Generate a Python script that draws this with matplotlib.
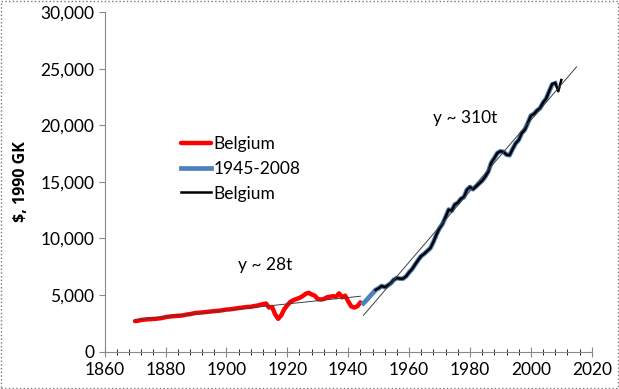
import numpy as np
import matplotlib
matplotlib.use("Agg")
import matplotlib.pyplot as plt
from matplotlib.ticker import FuncFormatter, MultipleLocator
from matplotlib.patches import Rectangle

plt.rcParams['font.family'] = ['Lato', 'DejaVu Sans']

# GDP per capita, Belgium, 1990 GK $
years_pre = list(range(1870, 1945))
gdp_pre = [2700, 2730, 2800, 2830, 2860, 2870, 2890, 2910, 2940, 2980,
           3050, 3090, 3120, 3140, 3170, 3180, 3220, 3280, 3310, 3370,
           3420, 3440, 3460, 3490, 3520, 3550, 3580, 3600, 3630, 3670,
           3720, 3730, 3770, 3810, 3850, 3880, 3920, 3950, 3960, 4020,
           4060, 4130, 4200, 4250, 3900, 3950, 3300, 2900, 3200, 3750,
           4100, 4400, 4550, 4650, 4750, 4900, 5100, 5200, 5050, 4950,
           4650, 4600, 4650, 4800, 4850, 4900, 4850, 5150, 4800, 4950,
           4450, 4000, 3900, 4000, 4350]

years_post = list(range(1945, 2009))
gdp_post = [4270, 4550, 4850, 5150, 5450, 5600, 5800, 5700, 5850, 6050,
            6350, 6500, 6450, 6450, 6650, 7000, 7300, 7700, 8100, 8450,
            8650, 8900, 9150, 9700, 10350, 10900, 11300, 11900, 12550, 12450,
            13000, 13150, 13500, 13650, 14300, 14550, 14350, 14600, 14850, 15100,
            15450, 15900, 16700, 17100, 17550, 17700, 17650, 17400, 17350, 17900,
            18400, 18700, 19300, 19600, 20200, 20850, 21000, 21300, 21500, 22000,
            22350, 23000, 23600, 23700]

years_black = list(range(1949, 2011))
gdp_black = [5450, 5600, 5800, 5700, 5850, 6050,
             6350, 6500, 6450, 6450, 6650, 7000, 7300, 7700, 8100, 8450,
             8650, 8900, 9150, 9700, 10350, 10900, 11300, 11900, 12550, 12450,
             13000, 13150, 13500, 13650, 14300, 14550, 14350, 14600, 14850, 15100,
             15450, 15900, 16700, 17100, 17550, 17700, 17650, 17400, 17350, 17900,
             18400, 18700, 19300, 19600, 20200, 20850, 21000, 21300, 21500, 22000,
             22350, 23000, 23650, 23750, 23000, 24000]

fig = plt.figure(figsize=(6.19, 3.89), dpi=100)
ax = fig.add_axes([0.169, 0.096, 0.787, 0.873])

ax.plot(years_pre, gdp_pre, color='#ff0000', lw=3.2, label='Belgium', solid_capstyle='round')
ax.plot(years_post, gdp_post, color='#4f81bd', lw=3.4, label='1945-2008')
ax.plot(years_black, gdp_black, color='black', lw=1.8, label='Belgium')

# linear trends
p1 = np.polyfit(years_pre, gdp_pre, 1)
t1 = np.array([1870, 1944])
ax.plot(t1, np.polyval(p1, t1), color='#404040', lw=0.7)
p2 = np.polyfit(years_post, gdp_post, 1)
t2 = np.array([1945, 2015])
ax.plot(t2, np.polyval(p2, t2), color='#404040', lw=0.7)

ax.text(1912.7, 7650, 'y ~ 28t', ha='center', va='center', fontsize=12.5)
ax.text(1978.4, 20600, 'y ~ 310t', ha='center', va='center', fontsize=12.5)

ax.set_xlim(1860, 2020)
ax.set_ylim(0, 30000)
ax.xaxis.set_major_locator(MultipleLocator(20))
ax.xaxis.set_minor_locator(MultipleLocator(4))
ax.yaxis.set_major_locator(MultipleLocator(5000))
ax.yaxis.set_major_formatter(FuncFormatter(lambda v, p: f'{v:,.0f}'))
ax.tick_params(axis='both', labelsize=12.5, color='#888888')
ax.tick_params(axis='x', which='major', direction='inout', length=7, pad=4)
ax.tick_params(axis='x', which='minor', direction='inout', length=4)
ax.tick_params(axis='y', which='major', direction='out', length=4)
for s in ['top', 'right']:
    ax.spines[s].set_visible(False)
for s in ['left', 'bottom']:
    ax.spines[s].set_color('#888888')
ax.set_ylabel('$, 1990 GK', fontsize=11.5, fontweight='bold', family='Open Sans',
              labelpad=8)

ax.legend(loc='upper left', bbox_to_anchor=(0.14, 0.66), frameon=False,
          fontsize=12.5, handlelength=1.7, handletextpad=0.15, labelspacing=0.5,
          borderpad=0)

fig.patches.append(Rectangle((0.002, 0.003), 0.996, 0.994, transform=fig.transFigure,
                             fill=False, edgecolor='#777777', lw=1, linestyle=':'))

fig.savefig('out.png', dpi=100)
